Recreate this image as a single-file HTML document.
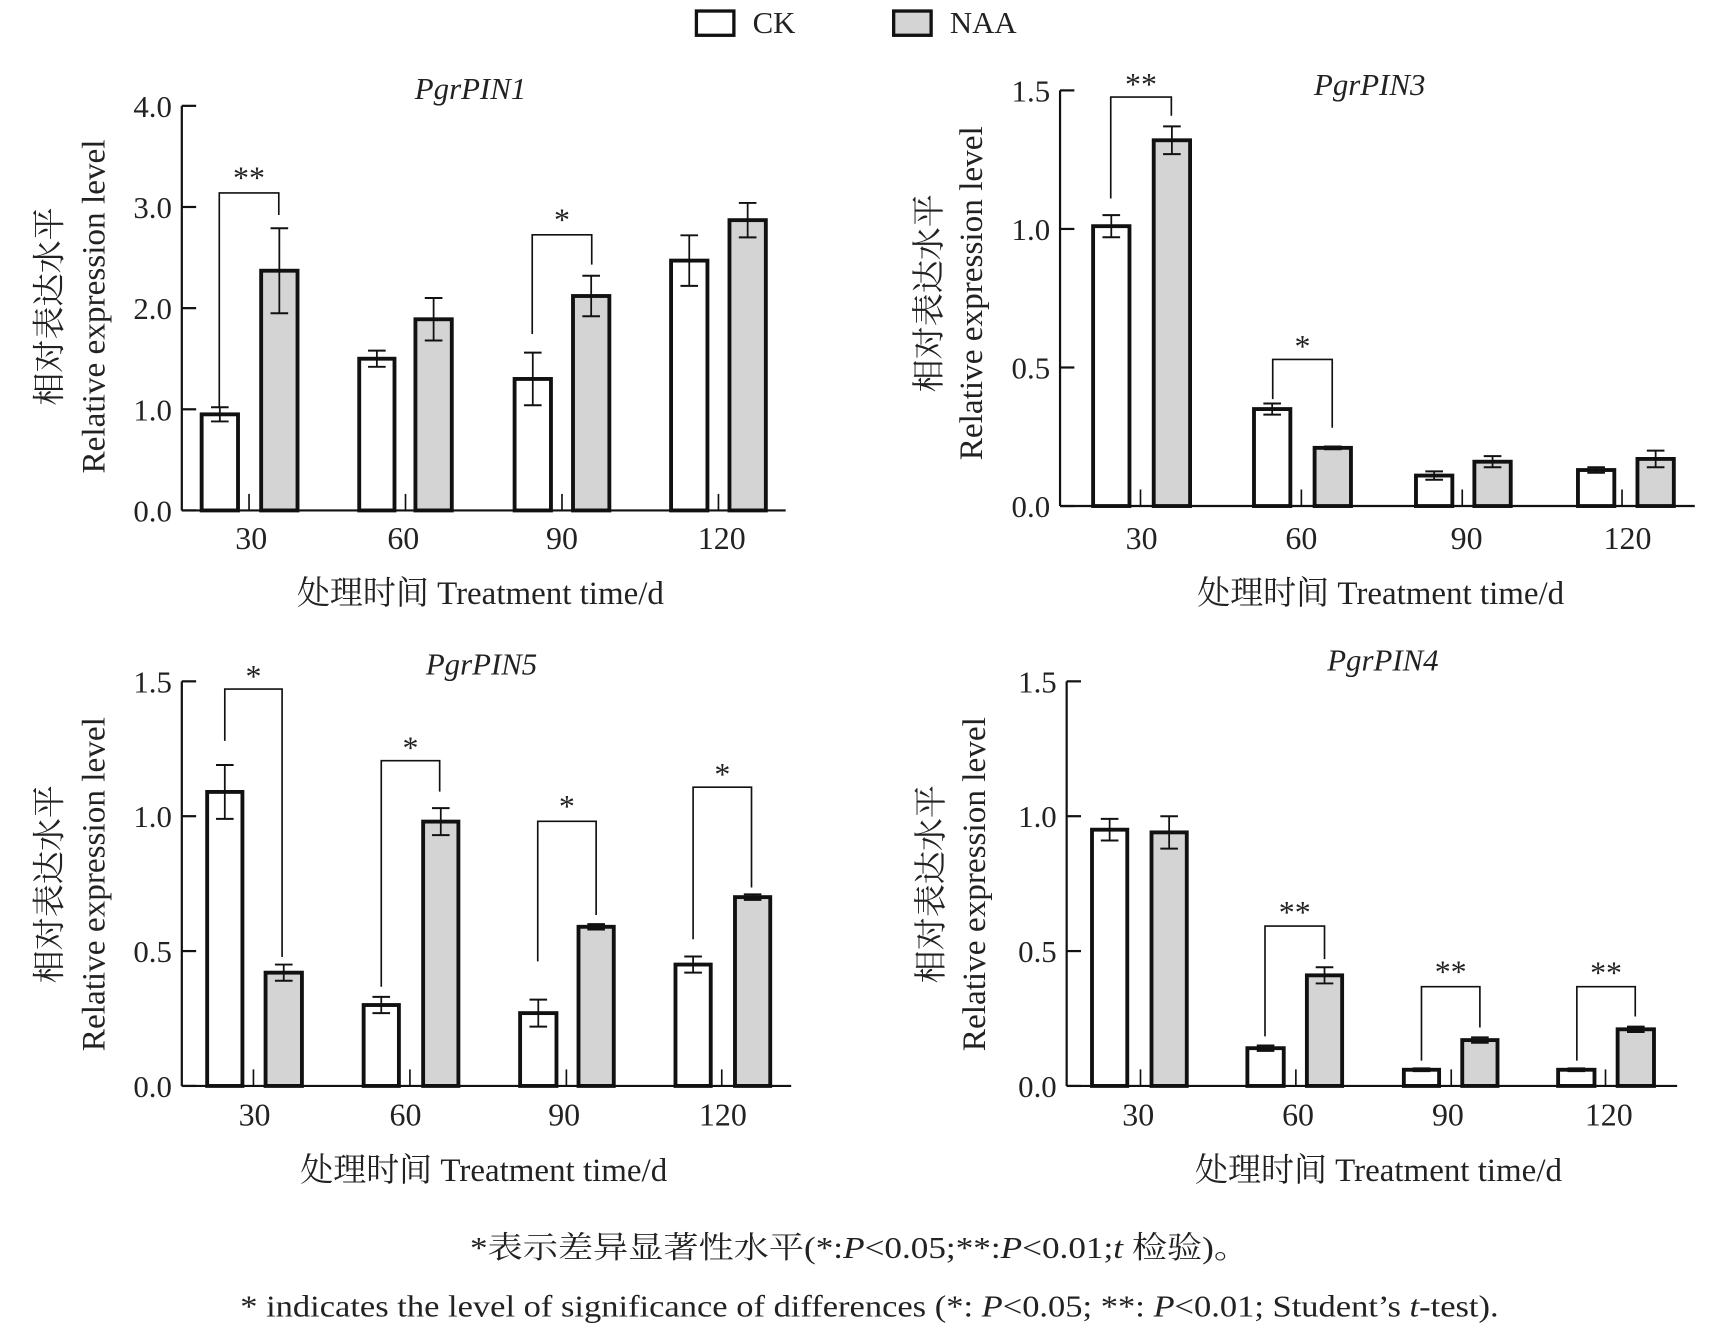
<!DOCTYPE html>
<html><head><meta charset="utf-8"><style>
html,body{margin:0;padding:0;background:#fff;}
svg{display:block;}
text{font-family:"Liberation Serif","Noto Serif CJK SC","Noto Sans CJK SC",serif;fill:#222;}
</style></head><body>
<svg id="s" xmlns="http://www.w3.org/2000/svg" width="1719" height="1334" viewBox="0 0 1560 1210" preserveAspectRatio="none">
<rect width="1560" height="1210" fill="#fff"/>
<rect x="632" y="10" width="34" height="22" fill="#fff" stroke="#111" stroke-width="3"/>
<text x="683" y="30" font-size="28">CK</text>
<rect x="811" y="10" width="34" height="22" fill="#d4d4d4" stroke="#111" stroke-width="3"/>
<text x="862" y="30" font-size="28">NAA</text>
<text x="780" y="1141" font-size="28" text-anchor="middle" textLength="707" lengthAdjust="spacingAndGlyphs">*表示差异显著性水平(*:<tspan font-style="italic">P</tspan>&lt;0.05;**:<tspan font-style="italic">P</tspan>&lt;0.01;<tspan font-style="italic">t</tspan> 检验)。</text>
<text x="789" y="1194" font-size="28" text-anchor="middle" textLength="1142" lengthAdjust="spacingAndGlyphs">* indicates the level of significance of differences (*: <tspan font-style="italic">P</tspan>&lt;0.05; **: <tspan font-style="italic">P</tspan>&lt;0.01; Student’s <tspan font-style="italic">t</tspan>-test).</text>
</svg>
<script>
var S=document.getElementById('s'),NS='http://www.w3.org/2000/svg';
function el(t,a,txt){var e=document.createElementNS(NS,t);for(var k in a)e.setAttribute(k,a[k]);if(txt!==undefined)e.textContent=txt;S.appendChild(e);return e;}
function line(x1,y1,x2,y2,w){el('line',{x1:x1,y1:y1,x2:x2,y2:y2,stroke:'#111','stroke-width':w||1.5});}
var P=[
{ax:165,top:96,bot:463,max:4,ticks:[0,1,2,3,4],fmt:1,xe:713,title:'PgrPIN1',tx:427,ty:90,
 bars:[[183,216,.95,.07,237,270,2.37,.42],[326,358,1.5,.08,377,410,1.89,.21],[467,500,1.3,.26,520,553,2.12,.2],[609,642,2.47,.25,662,695,2.87,.17]],
 lab:[228,366,510,655],tk:[226,368,510,652],ly:498,xl:436,xly:548,yl1:45,yl2:85,ylc:278,
 br:[[199,253,175,370,195,'**',160],[483,537,213,303,240,'*',198]]},
{ax:962,top:82,bot:459,max:1.5,ticks:[0,.5,1,1.5],fmt:1,xe:1538,title:'PgrPIN3',tx:1243,ty:86,
 bars:[[992,1025,1.01,.04,1047,1080,1.32,.05],[1138,1171,.35,.02,1193,1226,.21,.005],[1285,1318,.11,.015,1338,1371,.16,.02],[1432,1465,.13,.01,1486,1519,.17,.03]],
 lab:[1036,1181,1331,1477],tk:[1035,1181,1327,1472],ly:498,xl:1253,xly:548,yl1:843,yl2:881,ylc:266,
 br:[[1008,1063,88,180,105,'**',75],[1155,1209,326,362,388,'*',313]]},
{ax:165,top:618,bot:985,max:1.5,ticks:[0,.5,1,1.5],fmt:1,xe:718,title:'PgrPIN5',tx:437,ty:612,
 bars:[[188,220,1.09,.1,241,274,.42,.03],[330,362,.3,.03,384,416,.98,.05],[472,505,.27,.05,525,557,.59,.01],[613,645,.45,.03,667,699,.7,.01]],
 lab:[231,368,512,656],tk:[230,372,514,655],ly:1021,xl:439,xly:1071,yl1:45,yl2:85,ylc:802,
 br:[[204,256,625,672,868,'*',612],[346,399,690,895,718,'*',677],[488,541,745,872,830,'*',730],[629,682,714,852,805,'*',701]]},
{ax:968,top:618,bot:985,max:1.5,ticks:[0,.5,1,1.5],fmt:1,xe:1522,title:'PgrPIN4',tx:1255,ty:608,
 bars:[[991,1023,.95,.04,1045,1077,.94,.06],[1132,1165,.14,.01,1186,1218,.41,.03],[1274,1306,.06,.005,1327,1359,.17,.01],[1414,1447,.06,.005,1468,1501,.21,.01]],
 lab:[1033,1178,1314,1460],tk:[1035,1176,1317,1457],ly:1021,xl:1251,xly:1071,yl1:845,yl2:884,ylc:802,
 br:[[1148,1202,840,940,870,'**',826],[1290,1343,895,962,932,'**',880],[1431,1484,895,962,922,'**',881]]}
];
P.forEach(function(p){
 var Y=function(v){return p.bot-(p.bot-p.top)*v/p.max;};
 p.bars.forEach(function(b){
  [[b[0],b[1],b[2],b[3],'#fff'],[b[4],b[5],b[6],b[7],'#d4d4d4']].forEach(function(c){
   var y=Y(c[2]);
   el('rect',{x:c[0],y:y,width:c[1]-c[0],height:p.bot-y,fill:c[4],stroke:'#111','stroke-width':3.5});
   var m=(c[0]+c[1])/2,y1=Y(c[2]+c[3]),y2=Y(c[2]-c[3]);
   line(m,y1,m,y2,1.6);line(m-8,y1,m+8,y1,1.8);line(m-8,y2,m+8,y2,1.8);
  });
 });
 p.tk.forEach(function(x){line(x,p.bot-15,x,p.bot,1.5);});
 line(p.ax,p.top,p.ax,p.bot,2);line(p.ax,p.bot,p.xe,p.bot,2);
 p.ticks.forEach(function(v){var y=Y(v);line(p.ax,y,p.ax+13,y,2);
  el('text',{x:p.ax-9,y:y+10,'font-size':28,'text-anchor':'end'},v.toFixed(1));});
 p.lab.forEach(function(x,i){el('text',{x:x,y:p.ly,'font-size':29,'text-anchor':'middle'},['30','60','90','120'][i]);});
 el('text',{x:p.tx,y:p.ty,'font-size':28,'font-style':'italic','text-anchor':'middle'},p.title);
 el('text',{x:p.xl,y:p.xly,'font-size':30,'text-anchor':'middle','textLength':333,'lengthAdjust':'spacingAndGlyphs'},'处理时间 Treatment time/d');
 el('text',{x:0,y:0,'font-size':30,'text-anchor':'middle',transform:'translate('+(p.yl1+10)+','+p.ylc+') rotate(-90)'},'相对表达水平');
 el('text',{x:0,y:0,'font-size':30,'text-anchor':'middle','textLength':303,'lengthAdjust':'spacingAndGlyphs',transform:'translate('+(p.yl2+10)+','+p.ylc+') rotate(-90)'},'Relative expression level');
 p.br.forEach(function(b){
  el('polyline',{points:b[0]+','+b[3]+' '+b[0]+','+b[2]+' '+b[1]+','+b[2]+' '+b[1]+','+b[4],fill:'none',stroke:'#111','stroke-width':1.5});
  el('text',{x:(b[0]+b[1])/2,y:b[6]+11,'font-size':29,'text-anchor':'middle'},b[5]);
 });
});
</script>
</body></html>
